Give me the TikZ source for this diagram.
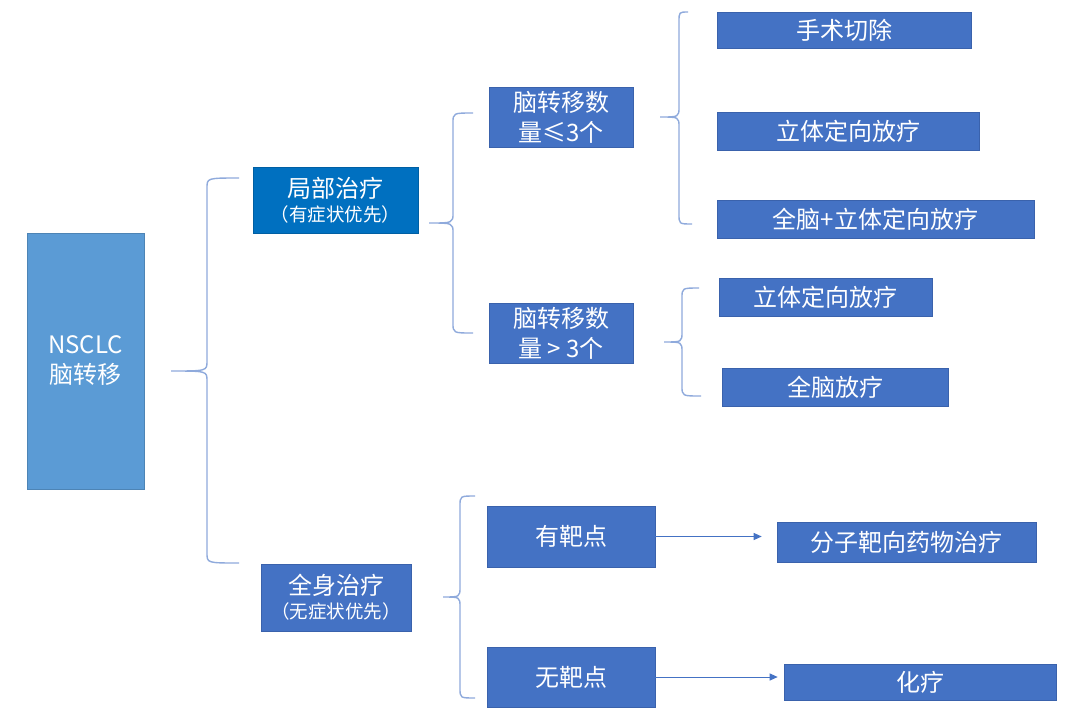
\documentclass[tikz,border=0pt]{standalone}
\usepackage{fontspec}
\setmainfont{Noto Sans CJK SC}
\usetikzlibrary{arrows.meta}
\definecolor{lb}{HTML}{5B9BD5}
\definecolor{db}{HTML}{0070C0}
\definecolor{mb}{HTML}{4472C4}
\definecolor{mbedge}{HTML}{3A62AC}
\definecolor{br}{HTML}{8FAADC}
\newcommand\mybrace[7]{%
  \draw[bracestyle] (#1,#2) .. controls (#3,#2) .. (#3,{#2+10}) -- (#3,{#5-10})
    .. controls (#3,#5) .. (#4,#5) .. controls (#3,#5) .. (#3,{#5+10})
    -- (#3,{#7-10}) .. controls (#3,#7) .. (#6,#7);}
\tikzset{
  bracestyle/.style={draw=br, line width=1.4pt},
  box/.style={rectangle, fill=mb, draw=mbedge, line width=0.6pt, text=white,
    inner sep=0pt, align=center, font=\fontsize{24}{30}\selectfont},
  arr/.style={draw=mb, line width=1pt, -{Triangle[length=8pt,width=7pt]}},
}
\begin{document}
\begin{tikzpicture}[x=1pt,y=-1pt]
\useasboundingbox[fill=white] (0,0) rectangle (1080,724);
% nodes
\node[box, fill=lb, draw=lb!85!black, minimum width=117, minimum height=256] (nsclc) at (85.5,361) {NSCLC\\脑转移};
\node[box, fill=db, draw=db!85!black, minimum width=165, minimum height=66] (local) at (335.5,200) {局部治疗\\[-6pt]{\fontsize{18.5}{22}\selectfont （有症状优先）}};
\node[box, minimum width=150, minimum height=67] (sys) at (336,597.5) {全身治疗\\[-6pt]{\fontsize{18.5}{22}\selectfont （无症状优先）}};
\node[box, minimum width=144, minimum height=60] (le3) at (561,117) {脑转移数\\量≤3个};
\node[box, minimum width=144, minimum height=60] (gt3) at (561,333) {脑转移数\\量 > 3个};
\node[box, minimum width=254, minimum height=36] (surg) at (844,30) {手术切除};
\node[box, minimum width=262, minimum height=38] (srsa) at (848,131) {立体定向放疗};
\node[box, minimum width=317, minimum height=38] (wbsrs) at (875.5,219) {全脑+立体定向放疗};
\node[box, minimum width=213, minimum height=38] (srsb) at (825.5,297) {立体定向放疗};
\node[box, minimum width=226, minimum height=38] (wbrt) at (835,387) {全脑放疗};
\node[box, minimum width=168, minimum height=61] (tgt) at (571,536.5) {有靶点};
\node[box, minimum width=168, minimum height=60] (notgt) at (571,677) {无靶点};
\node[box, minimum width=259, minimum height=40] (mol) at (906.5,542) {分子靶向药物治疗};
\node[box, minimum width=272, minimum height=36] (chemo) at (920,682) {化疗};
% braces
\mybrace{239}{178}{207}{171}{371}{239}{563}
\mybrace{473}{113}{453}{429}{223}{473}{333}
\mybrace{688}{12}{679}{660}{117}{692}{224}
\mybrace{699}{288}{682}{664}{342}{701}{396}
\mybrace{475}{496}{460}{443}{597}{475}{698}
% arrows
\draw[arr, shorten >=15pt] (tgt.east) -- (tgt.east -| mol.west);
\draw[arr, shorten >=6pt] (notgt.east) -- (notgt.east -| chemo.west);
\end{tikzpicture}
\end{document}
